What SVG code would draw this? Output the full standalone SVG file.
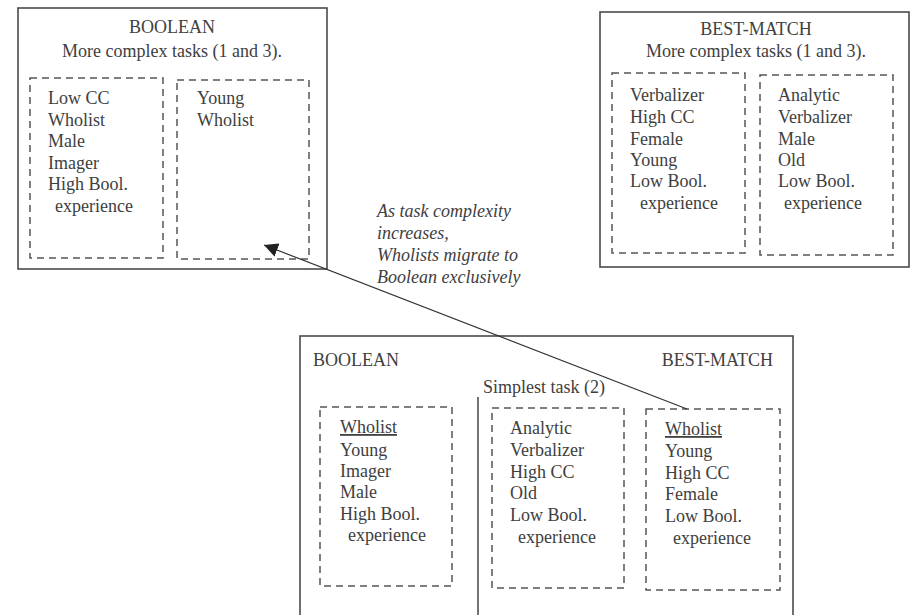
<svg xmlns="http://www.w3.org/2000/svg" width="915" height="615" viewBox="0 0 915 615">
  <defs>
    <style>
      .frame { fill: #ffffff; stroke: #4a4a4a; stroke-width: 1.6; }
      .group { fill: none; stroke: #555555; stroke-width: 1.5; stroke-dasharray: 7 5; }
      .divider { stroke: #444444; stroke-width: 1.5; }
      text { font-family: "Liberation Serif", "Times New Roman", serif; font-size: 18px; fill: #404040; }
      .title { text-anchor: middle; }
      .note { font-style: italic; }
      .flow { stroke: #333333; stroke-width: 1.2; fill: none; }
    </style>
    <marker id="arrow" viewBox="0 0 10 10" refX="10" refY="5" markerWidth="14" markerHeight="14" markerUnits="userSpaceOnUse" orient="auto">
      <path d="M0,0 L10,5 L0,10 Z" fill="#222222"/>
    </marker>
  </defs>

  <rect width="915" height="615" fill="#ffffff"/>

  <!-- Boolean, more complex tasks -->
  <g id="boolean-complex">
    <rect class="frame" x="18" y="8" width="309" height="261"/>
    <text class="title" x="172" y="33">BOOLEAN</text>
    <text class="title" x="172" y="57">More complex tasks (1 and 3).</text>
    <g id="boolean-complex-a">
      <rect class="group" x="30" y="78" width="133" height="180"/>
      <text x="48" y="104">Low CC</text>
      <text x="48" y="126">Wholist</text>
      <text x="48" y="147">Male</text>
      <text x="48" y="169">Imager</text>
      <text x="48" y="190">High Bool.</text>
      <text x="55" y="212">experience</text>
    </g>
    <g id="boolean-complex-b">
      <rect class="group" x="177" y="80" width="132" height="179"/>
      <text x="197" y="104">Young</text>
      <text x="197" y="126">Wholist</text>
    </g>
  </g>

  <!-- Best-match, more complex tasks -->
  <g id="bestmatch-complex">
    <rect class="frame" x="600" y="12" width="309" height="255"/>
    <text class="title" x="756" y="35">BEST-MATCH</text>
    <text class="title" x="756" y="57">More complex tasks (1 and 3).</text>
    <g id="bestmatch-complex-a">
      <rect class="group" x="612" y="73" width="133" height="180"/>
      <text x="630" y="101">Verbalizer</text>
      <text x="630" y="123">High CC</text>
      <text x="630" y="145">Female</text>
      <text x="630" y="166">Young</text>
      <text x="630" y="187">Low Bool.</text>
      <text x="640" y="209">experience</text>
    </g>
    <g id="bestmatch-complex-b">
      <rect class="group" x="760" y="75" width="133" height="180"/>
      <text x="778" y="101">Analytic</text>
      <text x="778" y="123">Verbalizer</text>
      <text x="778" y="145">Male</text>
      <text x="778" y="166">Old</text>
      <text x="778" y="187">Low Bool.</text>
      <text x="784" y="209">experience</text>
    </g>
  </g>

  <!-- Simplest task: Boolean vs best-match -->
  <g id="simplest-task">
    <rect class="frame" x="300" y="336" width="493" height="300"/>
    <text x="313" y="366">BOOLEAN</text>
    <text x="773" y="366" text-anchor="end">BEST-MATCH</text>
    <text x="483" y="393">Simplest task (2)</text>
    <line class="divider" x1="478" y1="397" x2="478" y2="615"/>
    <g id="simplest-boolean">
      <rect class="group" x="320" y="407" width="132" height="179"/>
      <text x="340" y="433" text-decoration="underline">Wholist</text>
      <text x="340" y="456">Young</text>
      <text x="340" y="477">Imager</text>
      <text x="340" y="498">Male</text>
      <text x="340" y="520">High Bool.</text>
      <text x="348" y="541">experience</text>
    </g>
    <g id="simplest-bestmatch-a">
      <rect class="group" x="492" y="408" width="132" height="180"/>
      <text x="510" y="434">Analytic</text>
      <text x="510" y="456">Verbalizer</text>
      <text x="510" y="478">High CC</text>
      <text x="510" y="499">Old</text>
      <text x="510" y="521">Low Bool.</text>
      <text x="518" y="543">experience</text>
    </g>
    <g id="simplest-bestmatch-b">
      <rect class="group" x="646" y="409" width="134" height="181"/>
      <text x="665" y="435" text-decoration="underline">Wholist</text>
      <text x="665" y="457">Young</text>
      <text x="665" y="479">High CC</text>
      <text x="665" y="500">Female</text>
      <text x="665" y="522">Low Bool.</text>
      <text x="673" y="544">experience</text>
    </g>
  </g>

  <!-- Migration of Wholists -->
  <g id="connectors">
    <line class="flow" x1="687" y1="409" x2="264" y2="245" marker-end="url(#arrow)"/>
    <text class="note" x="377" y="217">As task complexity</text>
    <text class="note" x="377" y="239">increases,</text>
    <text class="note" x="377" y="261">Wholists migrate to</text>
    <text class="note" x="377" y="283">Boolean exclusively</text>
  </g>
</svg>
